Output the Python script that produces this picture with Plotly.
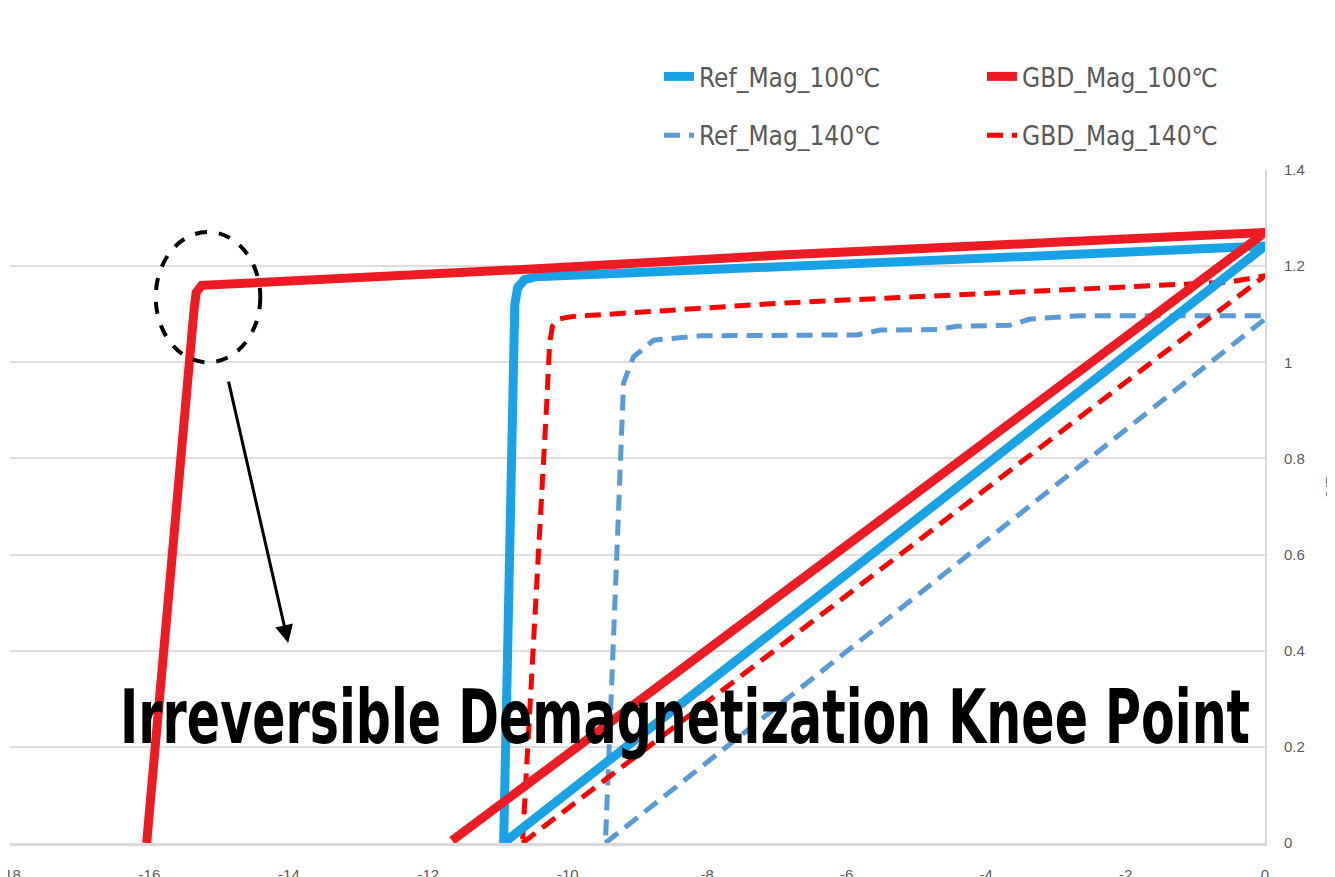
import plotly.graph_objects as go

# ---- data (H in kOe, B in T) ----
ref100_h = [-10.92, 0.0, -2.94, -6.95, -10.45, -10.62, -10.72, -10.76, -10.92]
ref100_b = [0.0, 1.242, 1.223, 1.198, 1.178, 1.172, 1.155, 1.120, 0.0]

gbd100_h = [-11.66, 0.0, -2.94, -6.95, -10.25, -15.10, -15.25, -15.33, -15.36, -16.04]
gbd100_b = [0.005, 1.270, 1.250, 1.223, 1.196, 1.163, 1.160, 1.145, 1.110, 0.0]

ref140_h = [-9.46, 0.0, 0.0, -2.65, -3.37, -3.66, -4.42, -4.70, -5.52, -5.85, -8.10, -8.77, -9.06, -9.20, -9.46]
ref140_b = [0.0, 1.090, 1.097, 1.097, 1.090, 1.077, 1.075, 1.068, 1.067, 1.057, 1.055, 1.046, 1.011, 0.957, 0.0]

gbd140_h = [-10.65, 0.0, -0.50, -2.65, -6.95, -9.95, -10.13, -10.22, -10.26, -10.30, -10.65]
gbd140_b = [0.0, 1.180, 1.167, 1.152, 1.123, 1.095, 1.090, 1.075, 1.040, 0.920, 0.0]

series_names = ["Ref_Mag_100℃", "GBD_Mag_100℃", "Ref_Mag_140℃", "GBD_Mag_140℃"]

x_tickvals = [-18, -16, -14, -12, -10, -8, -6, -4, -2, 0]
x_ticktext = ["-18", "-16", "-14", "-12", "-10", "-8", "-6", "-4", "-2", "0"]
y_tickvals = [0, 0.2, 0.4, 0.6, 0.8, 1.0, 1.2, 1.4]
y_ticktext = ["0", "0.2", "0.4", "0.6", "0.8", "1", "1.2", "1.4"]

annotation_text = "Irreversible Demagnetization Knee Point"
axis_title = "B [T]"

BLUE = "#19A3E6"
RED = "#ED1C24"
BLUE_D = "#5B9BD5"
RED_D = "#FF0000"

fig = go.Figure()

# draw order: dashed first, solid on top
fig.add_trace(go.Scatter(x=ref140_h, y=ref140_b, mode="lines", name=series_names[2],
                         line=dict(color=BLUE_D, width=5, dash="16px,9px"),
                         legend="legend", legendrank=2, legendgroup="a2"))
fig.add_trace(go.Scatter(x=gbd140_h, y=gbd140_b, mode="lines", name=series_names[3],
                         line=dict(color=RED_D, width=5, dash="16px,9px"),
                         legend="legend2", legendrank=2, legendgroup="b2"))
fig.add_trace(go.Scatter(x=ref100_h, y=ref100_b, mode="lines", name=series_names[0],
                         line=dict(color=BLUE, width=9),
                         legend="legend", legendrank=1, legendgroup="a1"))
fig.add_trace(go.Scatter(x=gbd100_h, y=gbd100_b, mode="lines", name=series_names[1],
                         line=dict(color=RED, width=9),
                         legend="legend2", legendrank=1, legendgroup="b1"))

W, H = 1335, 877
OFF = 8  # page body offset
L, R, T, B = 2, 78, 162, 42
pw, ph = W - L - R, H - T - B


def px(xs):
    return (xs - OFF - L) / pw


def py(ys):
    return (H - B - (ys - OFF)) / ph


leg_font = dict(family="DejaVu Sans Condensed, Liberation Sans, sans-serif", size=26, color="#595959")
tick_font = dict(family="Liberation Sans, Arial, sans-serif", size=15, color="#595959")

fig.update_layout(
    width=W, height=H,
    margin=dict(l=L, r=R, t=T, b=B),
    paper_bgcolor="white", plot_bgcolor="white",
    showlegend=True,
    legend=dict(x=px(659), y=py(53), xanchor="left", yanchor="top",
                font=leg_font, tracegroupgap=22, itemwidth=30,
                bgcolor="rgba(0,0,0,0)"),
    legend2=dict(x=px(982), y=py(53), xanchor="left", yanchor="top",
                 font=leg_font, tracegroupgap=22, itemwidth=30,
                 bgcolor="rgba(0,0,0,0)"),
    xaxis=dict(range=[-18, 0], tickvals=x_tickvals, ticktext=x_ticktext,
               showgrid=False, zeroline=False, automargin=False,
               ticklabeloverflow="allow",
               showline=True, linecolor="#D9D9D9", linewidth=3,
               ticks="outside", ticklen=16, tickcolor="rgba(0,0,0,0)",
               tickfont=tick_font),
    yaxis=dict(range=[0, 1.4], side="right", tickvals=y_tickvals, ticktext=y_ticktext,
               showgrid=True, gridcolor="#DEDEDE", gridwidth=2, automargin=False,
               zeroline=False, showline=True, linecolor="#D9D9D9", linewidth=2,
               ticks="outside", ticklen=14, tickcolor="rgba(0,0,0,0)",
               tickfont=dict(family="Liberation Sans, Arial, sans-serif", size=15, color="#595959")),
)

# knee circle
fig.add_shape(type="circle", xref="x", yref="y",
              x0=-15.91, x1=-14.41, y0=1.00, y1=1.271,
              line=dict(color="black", width=4, dash="dash"))

# arrow
fig.add_annotation(x=-14.01, y=0.416, ax=-14.87, ay=0.963, xref="x", yref="y",
                   axref="x", ayref="y", text="", showarrow=True,
                   arrowhead=2, arrowsize=1.2, arrowwidth=3, arrowcolor="black")

# big text
fig.add_annotation(x=px(685), y=py(717), xref="paper", yref="paper",
                   text=annotation_text, showarrow=False,
                   xanchor="center", yanchor="middle",
                   font=dict(family="DejaVu Sans Condensed, Liberation Sans, sans-serif",
                             size=75, color="black", weight="bold"))

# right axis title (mostly cut off, as in the reference)
fig.add_annotation(x=px(1330), y=py(487), xref="paper", yref="paper",
                   text=axis_title, showarrow=False, textangle=-90,
                   xanchor="center", yanchor="middle",
                   font=dict(family="Liberation Sans, sans-serif", size=10, color="#595959"))

post_js = """
(function(){
  var gd = document.getElementById('{plot_id}');
  var TARGET = 1130;
  function fix(){
    var els = gd.querySelectorAll('.annotation-text');
    els.forEach(function(t){
      if (t.textContent.indexOf('Irreversible') === 0) {
        t.setAttribute('textLength', String(TARGET));
        t.setAttribute('lengthAdjust', 'spacingAndGlyphs');
        var grp = t.parentNode;
        var bg = grp ? grp.querySelector('rect.bg') : null;
        if (bg && !bg.getAttribute('data-fixed')) {
          var w = parseFloat(bg.getAttribute('width'));
          var x = parseFloat(bg.getAttribute('x') || '0');
          var nw = TARGET + 6;
          if (w > nw) {
            bg.setAttribute('x', String(x + (w - nw) / 2));
            bg.setAttribute('width', String(nw));
          }
          bg.setAttribute('data-fixed', '1');
        }
      }
    });
  }
  fix();
  setTimeout(fix, 50);
  if (gd.on) { gd.on('plotly_afterplot', fix); }
})();
"""

fig.write_html("out.html", post_script=post_js)
